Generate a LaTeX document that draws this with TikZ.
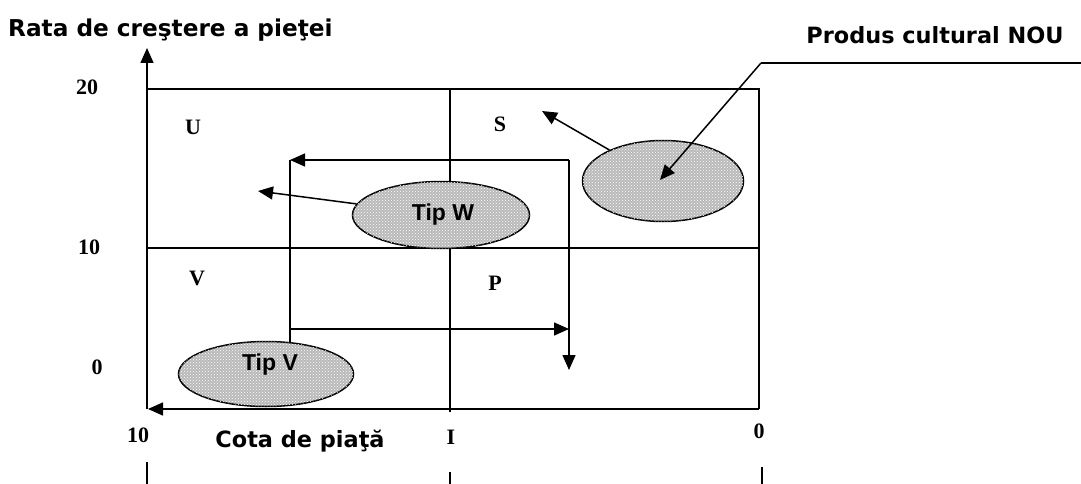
\documentclass[tikz,border=0pt]{standalone}
\usepackage{fontspec}
\setmainfont{Liberation Serif}
\newfontfamily\lblfont{DejaVu Sans}
\newfontfamily\tipfont{Liberation Sans}
\usetikzlibrary{arrows.meta,shapes.geometric,patterns}
\begin{document}
\begin{tikzpicture}[x=1pt,y=-1pt,
  ln/.style={line width=1.5pt},
  thin ln/.style={line width=1.2pt},
  arr/.style={line width=1.5pt,-{Triangle[length=15pt,width=13pt]}},
  blob/.style={ellipse, draw, line width=1.5pt, fill=gray!55,
    postaction={pattern=crosshatch dots, pattern color=white}, inner sep=0pt},
  tiptxt/.style={font=\tipfont\bfseries\fontsize{23}{25}\selectfont, inner sep=0pt},
  num/.style={font=\bfseries\fontsize{22}{24}\selectfont, inner sep=0pt},
  quad/.style={font=\bfseries\fontsize{22}{24}\selectfont, inner sep=0pt},
  ttl/.style={font=\lblfont\bfseries\fontsize{23.2}{26}\selectfont, inner sep=0pt}
]
\useasboundingbox (0,0) rectangle (1081,484);

% titles
\node[ttl, anchor=west] (ytitle) at (8,30) {Rata de creştere a pieţei};
\node[ttl, font=\lblfont\bfseries\fontsize{22.4}{26}\selectfont] (ptitle) at (935,35) {Produs cultural NOU};
\node[ttl, font=\lblfont\bfseries\fontsize{22.4}{26}\selectfont] (xtitle) at (300,441) {Cota de piaţă};

% grid
\draw[ln] (147,89) -- (759,89) -- (759,409);
\draw[ln] (147,248) -- (759,248);
\draw[ln] (450,89) -- (450,412);
\draw[arr] (147,409) -- (147,48);
\draw[arr] (759,409) -- (148,409);

% bottom ticks
\draw[thin ln] (147,462) -- (147,484);
\draw[thin ln] (450,472) -- (450,484);
\draw[thin ln] (762,467) -- (762,484);

% axis numbers
\node[num] (n20) at (87,87) {20};
\node[num] (n10) at (89,247) {10};
\node[num] (n0) at (97,367) {0};
\node[num] (b10) at (138,435) {10};
\node[num] (bI) at (451,437) {I};
\node[num] (b0) at (759,431) {0};

% quadrant letters
\node[quad] (qU) at (193,127) {U};
\node[quad] (qS) at (500,124) {S};
\node[quad] (qV) at (197,278) {V};
\node[quad] (qP) at (495,283) {P};

% inner loop
\coordinate (c1) at (569,160);
\coordinate (c2) at (290,160);
\coordinate (c3) at (290,360);
\coordinate (c4) at (290,329);
\coordinate (c5) at (569,329);
\coordinate (c6) at (569,370);
\draw[arr] (c1) -- (c2);
\draw[ln] (c2) -- (c3);
\draw[arr] (c4) -- (c5);
\draw[arr] (c1) -- (c6);

% ellipses
\node[blob, minimum width=175pt, minimum height=65pt] (tv) at (266,374) {};
\node[tiptxt] (tvl) at (270,365) {Tip V};
\node[blob, minimum width=177pt, minimum height=67pt] (tw) at (441,215) {};
\node[tiptxt] (twl) at (443,215) {Tip W};
\node[blob, minimum width=161pt, minimum height=81pt] (nou) at (663,181) {};

% arrows from ellipses
\coordinate (aW) at (258,191);
\coordinate (aS) at (542,111);
\draw[arr] (tw) -- (aW);
\draw[arr] (nou) -- (aS);

% callout
\coordinate (k1) at (1081,63);
\coordinate (k2) at (761,63);
\coordinate (k3) at (660,180);
\draw[ln] (k1) -- (k2);
\draw[arr] (k2) -- (k3);
\end{tikzpicture}
\end{document}
